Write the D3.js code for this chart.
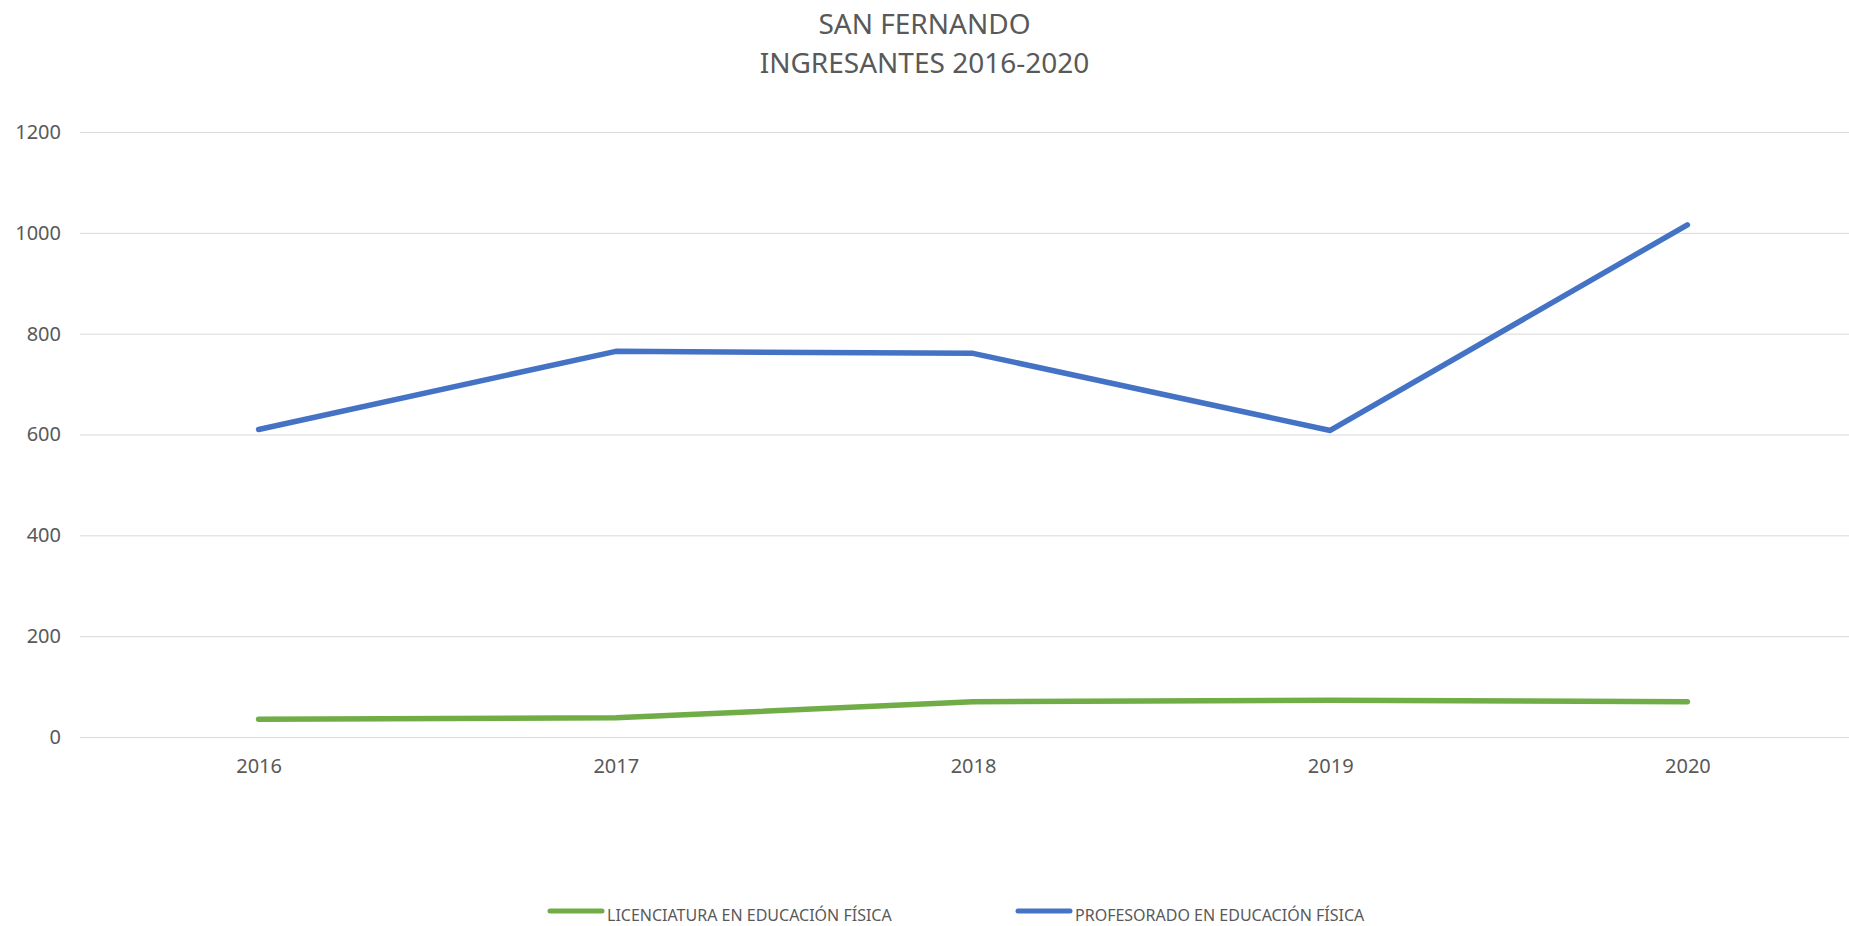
<!DOCTYPE html>
<meta charset="utf-8">
<script src="https://d3js.org/d3.v7.min.js"></script>
<style>
    body { margin: 0; background: #fff; }
    text { font-family: "Noto Sans", "Open Sans", sans-serif; fill: #595959; }
</style>
<body>
<div id="my_dataviz"></div>
<script>
    // data
    var years = ["2016", "2017", "2018", "2019", "2020"];
    var licenciatura = [35, 38, 70, 73, 70];
    var profesorado = [610, 765, 761, 608, 1016];
    var yTicks = [0, 200, 400, 600, 800, 1000, 1200];
    var seriesNames = ["LICENCIATURA EN EDUCACIÓN FÍSICA", "PROFESORADO EN EDUCACIÓN FÍSICA"];
    var seriesColors = ["#70AD47", "#4472C4"];

    var W = 1849, H = 926;
    var plot = { left: 80, right: 1866, top: 132, bottom: 737 };

    var svg = d3.select("#my_dataviz")
        .append("svg")
        .attr("width", W)
        .attr("height", H);

    // title
    var title = svg.append("text")
        .attr("text-anchor", "middle")
        .style("font-size", "28px");
    title.append("tspan").attr("x", W / 2).attr("y", 34).text("SAN FERNANDO");
    title.append("tspan").attr("x", W / 2).attr("y", 73).text("INGRESANTES 2016-2020");

    var x = d3.scalePoint()
        .domain(years)
        .range([plot.left, plot.right])
        .padding(0.5);

    var y = d3.scaleLinear()
        .domain([0, 1200])
        .range([plot.bottom, plot.top]);

    // gridlines
    svg.append("g")
        .selectAll("line")
        .data(yTicks)
        .enter().append("line")
        .attr("x1", plot.left)
        .attr("x2", plot.right)
        .attr("y1", function(d) { return y(d) + 0.5; })
        .attr("y2", function(d) { return y(d) + 0.5; })
        .attr("stroke", "#D9D9D9")
        .attr("stroke-width", 1);

    // y axis labels
    var yAxis = svg.append("g")
        .attr("transform", "translate(61,0)")
        .call(d3.axisLeft(y).tickValues(yTicks).tickFormat(d3.format("d")).tickSize(0).tickPadding(0));
    yAxis.select(".domain").remove();
    yAxis.selectAll("text")
        .attr("fill", "#595959")
        .style("font-size", "20px")
        .style("font-family", "'Noto Sans', sans-serif");

    // x axis labels
    var xAxis = svg.append("g")
        .attr("transform", "translate(0," + plot.bottom + ")")
        .call(d3.axisBottom(x).tickSize(0).tickPadding(22));
    xAxis.select(".domain").remove();
    xAxis.selectAll("text")
        .attr("fill", "#595959")
        .style("font-size", "20px")
        .style("font-family", "'Noto Sans', sans-serif");

    // lines
    var line = d3.line()
        .x(function(d, i) { return x(years[i]); })
        .y(function(d) { return y(d); });

    [licenciatura, profesorado].forEach(function(series, i) {
        svg.append("path")
            .datum(series)
            .attr("fill", "none")
            .attr("stroke", seriesColors[i])
            .attr("stroke-width", 5.5)
            .attr("stroke-linecap", "round")
            .attr("stroke-linejoin", "round")
            .attr("d", line);
    });

    // legend
    var legendX = [548, 1016];
    var legend = svg.append("g")
        .selectAll("g")
        .data(seriesNames)
        .enter().append("g")
        .attr("transform", function(d, i) { return "translate(" + legendX[i] + ",911)"; });
    legend.append("line")
        .attr("x1", 2).attr("x2", 54)
        .attr("stroke", function(d, i) { return seriesColors[i]; })
        .attr("stroke-width", 5)
        .attr("stroke-linecap", "round");
    legend.append("text")
        .attr("x", 59)
        .attr("y", 10)
        .style("font-size", "16px")
        .text(function(d) { return d; });
</script>
</body>
